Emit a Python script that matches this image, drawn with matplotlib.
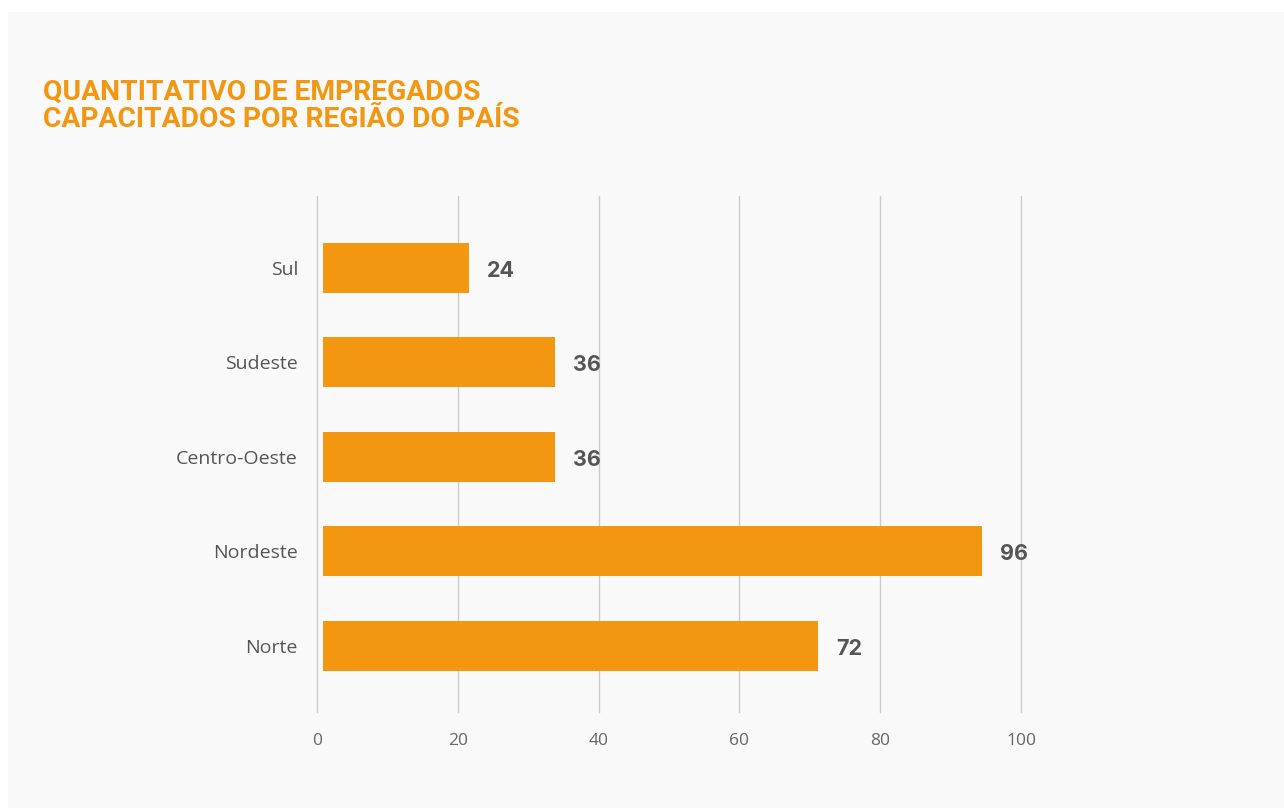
import matplotlib
matplotlib.use("Agg")
import matplotlib.pyplot as plt
from matplotlib.patches import Rectangle

# ---- data ----
title = "QUANTITATIVO DE EMPREGADOS\nCAPACITADOS POR REGIÃO DO PAÍS"
categories = ["Norte", "Nordeste", "Centro-Oeste", "Sudeste", "Sul"]
labels = [72, 96, 36, 36, 24]                 # numbers printed next to bars
bar_ends = [71.2, 94.5, 33.8, 33.8, 21.6]     # bar lengths as drawn on the axis
xticks = [0, 20, 40, 60, 80, 100]

W, H = 1284, 810
fig = plt.figure(figsize=(W / 100, H / 100), dpi=100, facecolor="white")

# background panel
bg = Rectangle((8 / W, 2 / H), (W - 8) / W, (H - 14) / H,
               transform=fig.transFigure, facecolor="#f9f9f9",
               edgecolor="none", zorder=-10)
fig.patches.append(bg)

orange = "#f39610"
fig.text(43 / W, 1 - 79 / H, title, ha="left", va="top", color=orange,
         fontsize=20.3, fontweight="bold", family=["Roboto", "DejaVu Sans"],
         linespacing=1.0)

ax = fig.add_axes([317 / W, (H - 712) / H, (1021 - 317) / W, (712 - 196) / H])
ax.set_facecolor("none")
ax.set_zorder(1)

ypos = list(range(len(categories)))
start = 0.85
ax.barh(ypos, [e - start for e in bar_ends], left=start, height=0.53,
        color=orange, zorder=3)
for y, e, lab in zip(ypos, bar_ends, labels):
    ax.annotate(str(lab), (e, y), xytext=(18, -3), textcoords="offset pixels",
                ha="left", va="center", fontsize=15.5, fontweight="bold",
                color="#555555", family="Inter", zorder=4)

ax.set_xlim(0, 100)
ax.set_ylim(-0.70, 4.76)
ax.set_xticks(xticks)
ax.set_xticklabels([str(t) for t in xticks], fontsize=12.5, color="#666666",
                   family="Open Sans")
ax.set_yticks(ypos)
ax.set_yticklabels(categories, fontsize=14, color="#555555", family="Open Sans")
ax.tick_params(axis="both", length=0)
ax.tick_params(axis="x", pad=15)
ax.tick_params(axis="y", pad=13.7)
ax.grid(axis="x", color="#cccccc", linewidth=1, zorder=0)
ax.grid(axis="y", visible=False)
for gl in ax.get_xgridlines():
    gl.set_clip_on(False)
for s in ax.spines.values():
    s.set_visible(False)

fig.savefig("out.png", dpi=100, facecolor=fig.get_facecolor())
